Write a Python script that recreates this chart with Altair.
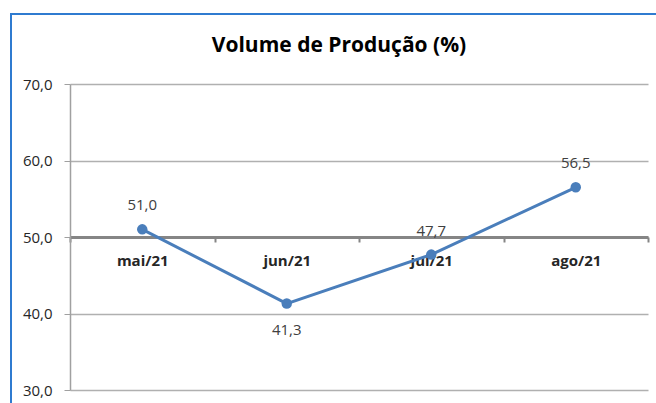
import altair as alt
import pandas as pd

months = ["mai/21", "jun/21", "jul/21", "ago/21"]
values = [51.0, 41.3, 47.7, 56.5]
label_above = [True, False, True, True]
y_ticks = [30, 40, 50, 60, 70]
title_text = "Volume de Produção (%)"

df = pd.DataFrame({"mes": months, "valor": values, "acima": label_above})
df["rotulo"] = [f"{v:.1f}".replace(".", ",") for v in values]

W, H = 578, 306
FONT = "Open Sans"
LINE = "#4A7EBB"

x_enc = alt.X(
    "mes:N",
    sort=months,
    scale=alt.Scale(type="band", paddingInner=0, paddingOuter=0),
    bandPosition=0.5,
    axis=alt.Axis(
        title=None, orient="bottom", offset=-153,
        domainColor="#858585", domainWidth=3,
        tickColor="#858585", tickWidth=2, tickSize=5, tickBand="extent",
        labelAngle=0, labelFont=FONT, labelFontSize=15, labelFontWeight="bold",
        labelColor="#262626", labelPadding=11, grid=False,
    ),
)
y_enc = alt.Y(
    "valor:Q",
    scale=alt.Scale(domain=[30, 70], nice=False, zero=False),
    axis=alt.Axis(
        title=None, values=y_ticks,
        labelExpr="replace(format(datum.value, '.1f'), '.', ',')",
        gridColor="#B0B0B0", gridWidth=1.5, domainColor="#A0A0A0", domainWidth=1.5,
        tickColor="#A0A0A0", tickSize=6, labelFont=FONT, labelFontSize=15,
        labelColor="#262626", labelPadding=12,
    ),
)

base = alt.Chart(df).encode(x=x_enc, y=y_enc)

line = base.mark_line(color=LINE, strokeWidth=3)
points = base.mark_point(filled=True, color=LINE, size=110, opacity=1)
lab_up = base.transform_filter("datum.acima").mark_text(
    dy=-24, font=FONT, fontSize=15, color="#404040"
).encode(text="rotulo:N")
lab_down = base.transform_filter("!datum.acima").mark_text(
    dy=26, font=FONT, fontSize=15, color="#404040"
).encode(text="rotulo:N")

one = pd.DataFrame({"t": [title_text]})
title = alt.Chart(one).mark_text(
    font=FONT, fontSize=21, fontWeight="bold", color="#000000", baseline="middle"
).encode(x=alt.value(269), y=alt.value(-38), text="t:N")

frame = alt.Chart(one).mark_rect(
    fill=None, filled=False, stroke="#2F7BD0", strokeWidth=2
).encode(x=alt.value(-59), y=alt.value(-70), x2=alt.value(600), y2=alt.value(400))

chart = alt.layer(frame, title, line, points, lab_up, lab_down).properties(
    width=W, height=H,
    autosize=alt.AutoSizeParams(type="none"),
    padding={"left": 70, "top": 84, "right": 8, "bottom": 13},
    background="white",
).configure_view(stroke=None)

chart.save("out.html", embed_options={"renderer": "svg", "actions": False})
